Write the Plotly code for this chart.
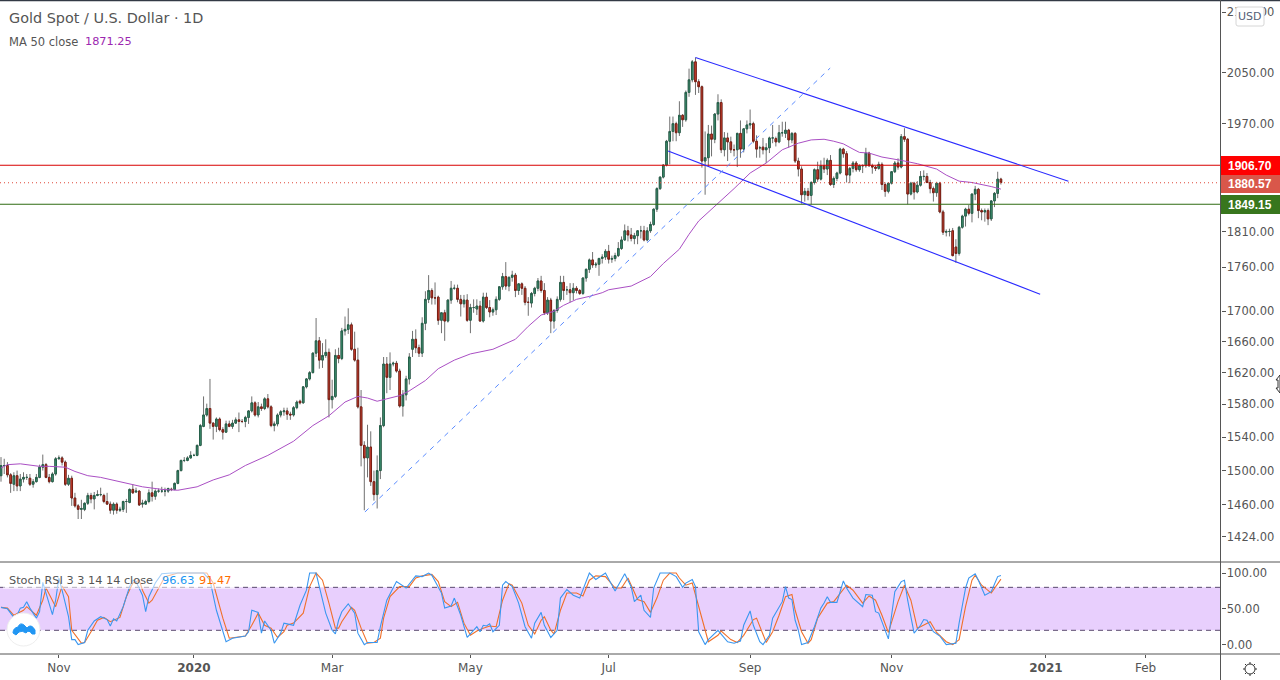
import plotly.graph_objects as go
from plotly.subplots import make_subplots

# ---------- data ----------
opens = [1494,1506,1506,1495,1484,1494,1482,1490,1492,1491,
 1484,1487,1492,1504,1507,1492,1487,1496,1514,1515,
 1510,1484,1491,1468,1459,1455,1455,1462,1471,1467,
 1471,1472,1471,1464,1461,1454,1461,1454,1455,1464,
 1463,1478,1475,1476,1461,1461,1464,1474,1470,1476,
 1476,1476,1476,1478,1478,1485,1500,1512,1512,1515,
 1518,1518,1530,1553,1567,1575,1557,1553,1562,1549,
 1546,1556,1553,1557,1561,1559,1559,1564,1572,1582,
 1567,1577,1575,1587,1577,1554,1556,1567,1571,1572,
 1568,1567,1576,1584,1582,1602,1612,1620,1645,1661,
 1636,1642,1646,1586,1590,1642,1638,1674,1676,1682,
 1650,1636,1577,1530,1515,1528,1487,1472,1500,1554,
 1631,1614,1631,1632,1622,1578,1592,1612,1650,1663,
 1652,1645,1684,1716,1728,1718,1719,1688,1698,1687,
 1715,1731,1731,1716,1710,1715,1688,1705,1703,1707,
 1687,1719,1705,1699,1702,1716,1733,1747,1734,1746,
 1749,1728,1737,1731,1712,1711,1724,1731,1741,1728,
 1698,1715,1687,1701,1716,1739,1729,1729,1725,1731,
 1728,1724,1745,1757,1770,1763,1764,1772,1774,1782,
 1771,1772,1776,1786,1798,1811,1805,1800,1804,1811,
 1811,1798,1811,1820,1842,1872,1889,1907,1943,1958,
 1970,1956,1983,1976,2019,2039,2068,2036,2028,1913,
 1918,1954,1946,1985,2003,1930,1948,1942,1930,1930,
 1955,1931,1962,1968,1970,1943,1933,1934,1930,1933,
 1948,1947,1942,1956,1955,1960,1945,1955,1913,1901,
 1863,1868,1862,1881,1900,1886,1906,1901,1914,1878,
 1887,1895,1931,1924,1892,1902,1910,1900,1906,1906,
 1925,1906,1904,1902,1908,1878,1868,1880,1897,1910,
 1904,1950,1946,1864,1880,1867,1877,1890,1890,1881,
 1872,1866,1880,1838,1809,1810,1811,1788,1779,1816,
 1832,1842,1836,1864,1871,1840,1838,1840,1828,1854,
 1865,1886]
highs = [1516,1514,1510,1497,1498,1500,1496,1498,1496,1496,
 1490,1496,1507,1519,1509,1496,1498,1516,1518,1517,
 1512,1495,1494,1474,1461,1466,1463,1474,1474,1475,
 1477,1480,1473,1474,1464,1463,1463,1458,1465,1467,
 1479,1484,1480,1477,1466,1466,1478,1487,1478,1479,
 1481,1480,1480,1480,1486,1501,1513,1516,1517,1523,
 1520,1531,1556,1590,1581,1612,1558,1564,1564,1552,
 1560,1560,1561,1564,1570,1562,1566,1573,1590,1584,
 1583,1581,1589,1593,1579,1559,1569,1573,1576,1576,
 1571,1578,1585,1586,1603,1613,1622,1646,1691,1666,
 1658,1663,1651,1611,1650,1652,1678,1693,1704,1685,
 1673,1652,1598,1535,1555,1547,1500,1518,1564,1640,
 1640,1646,1634,1635,1625,1598,1616,1645,1674,1676,
 1656,1692,1727,1749,1731,1739,1721,1698,1702,1716,
 1741,1736,1736,1722,1722,1723,1710,1716,1716,1714,
 1725,1725,1715,1705,1720,1734,1752,1767,1747,1755,
 1752,1738,1739,1734,1719,1726,1733,1745,1748,1738,
 1719,1718,1703,1720,1748,1748,1734,1738,1738,1734,
 1730,1746,1758,1772,1781,1767,1773,1778,1785,1791,
 1776,1780,1795,1803,1820,1818,1815,1808,1812,1818,
 1818,1816,1824,1843,1874,1890,1908,1945,1981,1981,
 1973,2005,1985,2022,2057,2071,2075,2040,2030,1958,
 1968,1967,1986,2016,2008,1957,1956,1950,1938,1956,
 1975,1963,1975,1992,1973,1952,1936,1948,1940,1950,
 1968,1950,1968,1973,1973,1962,1957,1957,1918,1905,
 1873,1873,1883,1902,1912,1914,1918,1917,1922,1890,
 1897,1933,1933,1928,1904,1913,1913,1908,1908,1933,
 1927,1909,1906,1912,1911,1881,1881,1898,1913,1917,
 1954,1963,1948,1882,1882,1883,1898,1899,1895,1885,
 1875,1882,1882,1841,1813,1814,1815,1799,1818,1834,
 1844,1848,1865,1876,1873,1843,1843,1843,1855,1867,
 1897,1888]
lows = [1487,1496,1492,1474,1476,1476,1476,1486,1489,1482,
 1480,1486,1491,1500,1491,1485,1486,1494,1513,1506,
 1482,1482,1459,1457,1444,1444,1453,1460,1462,1455,
 1470,1470,1462,1460,1450,1449,1450,1452,1452,1451,
 1462,1473,1474,1459,1457,1460,1462,1464,1466,1474,
 1474,1470,1474,1476,1477,1484,1499,1510,1511,1514,
 1517,1517,1529,1552,1565,1550,1537,1546,1547,1537,
 1545,1552,1550,1556,1546,1557,1552,1556,1570,1565,
 1564,1572,1573,1575,1552,1547,1553,1564,1566,1561,
 1561,1565,1574,1580,1581,1600,1610,1619,1640,1625,
 1626,1639,1564,1575,1588,1632,1636,1668,1670,1648,
 1634,1575,1505,1454,1492,1482,1465,1456,1490,1552,
 1594,1598,1628,1620,1576,1565,1585,1605,1640,1645,
 1640,1640,1675,1711,1709,1709,1682,1671,1661,1685,
 1710,1729,1712,1693,1705,1686,1671,1698,1695,1686,
 1685,1703,1692,1694,1695,1714,1729,1729,1727,1740,
 1719,1722,1722,1708,1694,1705,1720,1727,1725,1695,
 1695,1671,1677,1698,1713,1715,1722,1712,1715,1724,
 1722,1722,1740,1752,1759,1759,1748,1765,1770,1765,
 1766,1768,1774,1784,1797,1796,1796,1792,1792,1800,
 1796,1796,1808,1818,1838,1870,1887,1905,1908,1943,
 1943,1951,1965,1973,2012,2035,2015,2018,1903,1863,
 1905,1920,1940,1975,1925,1920,1913,1925,1920,1904,
 1918,1926,1955,1962,1940,1918,1918,1923,1910,1925,
 1940,1935,1940,1950,1948,1933,1940,1910,1890,1850,
 1853,1855,1849,1878,1882,1884,1895,1892,1876,1873,
 1883,1893,1918,1881,1880,1896,1897,1897,1895,1903,
 1904,1894,1898,1900,1870,1860,1865,1878,1895,1900,
 1902,1942,1849,1862,1856,1865,1875,1884,1880,1865,
 1853,1860,1836,1805,1803,1803,1775,1766,1776,1814,
 1817,1833,1823,1855,1829,1826,1824,1819,1825,1845,
 1858,1878]
closes = [1506,1506,1495,1485,1494,1482,1490,1492,1492,1484,
 1487,1492,1504,1507,1492,1487,1496,1514,1515,1510,
 1484,1491,1468,1459,1455,1456,1462,1471,1467,1471,
 1472,1472,1464,1461,1454,1461,1454,1455,1464,1464,
 1478,1474,1476,1460,1462,1464,1474,1470,1476,1476,
 1476,1476,1479,1478,1485,1500,1512,1512,1515,1518,
 1518,1530,1554,1567,1575,1557,1553,1562,1549,1546,
 1556,1553,1557,1561,1559,1559,1564,1572,1582,1567,
 1577,1575,1587,1577,1554,1556,1567,1571,1572,1568,
 1567,1576,1583,1582,1602,1612,1620,1645,1661,1636,
 1642,1646,1586,1590,1642,1638,1674,1676,1682,1650,
 1636,1577,1530,1515,1528,1487,1472,1500,1554,1631,
 1614,1631,1632,1622,1578,1592,1612,1640,1663,1652,
 1645,1684,1716,1728,1718,1718,1688,1698,1687,1715,
 1731,1731,1716,1710,1715,1688,1705,1705,1707,1687,
 1719,1705,1699,1702,1716,1733,1747,1734,1746,1749,
 1728,1737,1731,1712,1712,1724,1731,1741,1728,1698,
 1715,1687,1701,1716,1739,1728,1729,1725,1731,1728,
 1724,1745,1757,1770,1763,1764,1772,1774,1782,1771,
 1772,1776,1786,1798,1811,1805,1800,1804,1811,1811,
 1798,1811,1820,1842,1872,1889,1907,1943,1958,1970,
 1956,1983,1976,2019,2039,2068,2036,2028,1913,1918,
 1954,1946,1985,2003,1930,1948,1942,1930,1930,1955,
 1931,1962,1968,1970,1943,1931,1933,1930,1933,1948,
 1948,1942,1956,1956,1960,1945,1955,1913,1901,1863,
 1868,1862,1881,1900,1886,1906,1901,1914,1878,1887,
 1895,1931,1924,1892,1902,1910,1900,1906,1906,1925,
 1906,1904,1902,1908,1878,1868,1880,1897,1910,1904,
 1950,1946,1864,1880,1867,1877,1890,1890,1881,1872,
 1866,1880,1838,1809,1810,1810,1776,1779,1816,1832,
 1842,1836,1864,1871,1840,1838,1840,1828,1854,1865,
 1886,1881]

ma_bar = [0,2,6,12,15,20,23,27,31,36,40,44,50,55,61,66,71,76,83,91,97,102,107,111,114,117,120,124,127,132,136,141,146,153,160,164,168,172,175,179,183,187,189,196,202,206,211,214,217,223,228,233,238,243,248,252,256,259,262,265,267,270,274,280,285,291,294,298,302,308,311]
ma_value = [1503,1507,1508,1505,1505,1504,1499,1494,1492,1488,1484,1481,1478,1477,1481,1489,1495,1506,1518,1535,1554,1566,1583,1590,1588,1584,1587,1591,1597,1610,1625,1636,1644,1650,1663,1680,1695,1700,1708,1716,1720,1725,1729,1734,1747,1765,1785,1806,1825,1850,1872,1895,1910,1930,1940,1945,1946,1943,1939,1931,1926,1925,1919,1914,1909,1901,1892,1883,1881,1875,1871.25]

k_bar = [0,2,4,5,6,7,8,9,11,12,13,14,16,17,18,19,21,22,23,24,26,27,29,31,33,34,35,36,38,40,41,42,44,45,46,48,50,53,56,59,63,65,67,70,72,76,77,78,80,81,82,84,85,87,88,89,91,93,95,96,98,99,101,103,104,105,
 106,108,110,111,113,114,117,118,120,123,126,129,131,133,134,137,138,140,141,143,145,146,148,149,150,151,152,153,155,156,157,159,161,163,165,166,168,169,171,173,174,176,178,180,183,185,188,191,194,196,197,199,200,202,203,205,208,210,211,
 212,213,215,216,217,219,220,223,226,228,230,231,233,234,236,237,239,240,243,244,245,246,247,248,249,251,253,255,256,257,258,260,262,263,265,268,269,271,272,273,275,276,278,280,281,282,284,286,287,288,290,292,294,297,298,300,301,303,304,306,308,310,311]
k_value = [52,50,38,41,51,52,60,51,37,46,87,72,42,62,93,76,39,7,7,0,3,20,33,39,35,26,36,33,53,81,90,88,69,46,67,86,99,100,100,100,100,90,48,4,9,12,18,48,45,16,33,20,2,16,30,29,27,55,76,100,100,81,44,20,15,34,
 46,57,44,16,0,3,3,25,62,88,79,96,95,100,97,72,51,54,65,41,10,15,25,18,27,26,29,18,27,83,88,81,58,25,9,30,45,27,10,20,65,77,69,65,100,91,100,75,99,81,60,69,48,38,79,100,100,95,87,
 80,86,91,81,18,0,7,20,4,2,5,27,47,27,4,0,13,37,60,81,65,63,34,20,0,3,25,51,58,67,59,59,89,79,65,53,70,69,46,44,18,8,74,88,90,62,16,27,35,34,18,12,0,2,30,79,93,99,90,69,74,95,96.63]

d_bar = [0,2,4,7,8,11,13,14,17,18,19,21,22,25,26,28,30,32,34,37,39,41,43,44,46,47,49,51,55,59,64,66,69,71,73,76,78,80,82,84,86,88,89,91,94,96,98,100,102,104,105,
 106,109,110,112,114,116,118,119,121,124,127,129,131,134,136,138,140,142,144,146,148,150,152,154,156,158,159,162,164,166,168,169,171,172,174,176,179,181,183,185,188,191,193,195,197,198,200,202,204,206,208,210,211,
 213,215,216,219,220,223,224,227,229,231,234,235,237,238,240,242,244,246,247,249,251,252,254,257,259,261,263,265,268,270,272,274,276,279,281,283,285,286,289,291,294,296,298,300,302,303,305,308,309,311]
d_value = [52,51,41,48,53,41,62,79,53,69,82,67,20,2,3,18,34,38,32,38,67,86,90,76,58,62,79,95,100,100,100,86,37,9,10,12,27,44,27,23,10,18,27,30,44,81,100,90,58,23,23,
 32,52,48,23,2,3,9,37,67,81,81,93,96,98,88,60,53,59,30,13,19,23,26,25,62,85,83,58,27,15,34,39,20,15,48,72,72,68,90,96,95,79,79,93,72,63,60,45,65,90,100,100,93,
 83,86,69,18,4,13,19,7,3,13,35,37,13,3,18,41,67,70,48,18,2,7,37,58,60,72,83,76,58,68,62,41,17,60,83,62,23,25,32,17,4,0,7,53,90,97,83,72,79,91.47]

tick_bars = [18,60,103,146,189,233,277,325,356]
tick_labels = ["Nov","<b>2020</b>","Mar","May","Jul","Sep","Nov","<b>2021</b>","Feb"]
price_ticks = [2150,2050,1970,1810,1760,1700,1660,1620,1580,1540,1500,1460,1424]
stoch_ticks = [100,50,0]

resistance_level = 1906.70
last_price = 1880.57
support_level = 1849.15
channel_top_bars, channel_top_prices = [216,332],[2075,1883]
channel_low_bars, channel_low_prices = [207.5,323.2],[1928,1723]
trend_bars, trend_prices = [113.2,257.9],[1452,2058]
band_low, band_high = 20, 80

# ---------- helpers: pixel -> paper ----------
W, H = 1280, 680
def px(x): return x / W
def py(y): return 1 - y / H

FONT = "DejaVu Sans"
TXT = "#555555"
AXIS = "#555555"
x_range = [-0.31, 379.3]
bars = list(range(len(closes)))

fig = make_subplots(rows=2, cols=1, shared_xaxes=True, vertical_spacing=0)

# wicks
fig.add_trace(go.Candlestick(x=bars, open=opens, high=highs, low=lows, close=closes,
    increasing=dict(line=dict(color="#707070", width=1), fillcolor="#707070"),
    decreasing=dict(line=dict(color="#707070", width=1), fillcolor="#707070"),
    whiskerwidth=0, showlegend=False, hoverinfo="skip"), row=1, col=1)
# bodies
body_hi = [max(o, c) for o, c in zip(opens, closes)]
body_lo = [min(o, c) for o, c in zip(opens, closes)]
fig.add_trace(go.Candlestick(x=bars, open=opens, high=body_hi, low=body_lo, close=closes,
    increasing=dict(line=dict(color="#25604a", width=1), fillcolor="#459a78"),
    decreasing=dict(line=dict(color="#7a1f14", width=1), fillcolor="#e04634"),
    whiskerwidth=0, showlegend=False, hoverinfo="skip"), row=1, col=1)

def line(xs, ys, color, width=1, dash="solid", row=1):
    fig.add_trace(go.Scatter(x=xs, y=ys, mode="lines", showlegend=False, hoverinfo="skip",
                             line=dict(color=color, width=width, dash=dash)), row=row, col=1)

line(ma_bar, ma_value, "#aa4fc4", 1)
line(x_range, [resistance_level]*2, "#d80000", 1.2)
line(x_range, [last_price]*2, "#e0483a", 1.1, "1px,3px")
line(x_range, [support_level]*2, "#2f6b12", 1.2)
line(channel_top_bars, channel_top_prices, "#2a2aff", 1.1)
line(channel_low_bars, channel_low_prices, "#2a2aff", 1.1)
line(trend_bars, trend_prices, "#5b8cff", 1, "5px,5px")

line(x_range, [band_high]*2, "#5a4a6e", 1, "5px,4px", row=2)
line(x_range, [band_low]*2, "#5a4a6e", 1, "5px,4px", row=2)
line(d_bar, d_value, "#f0702a", 1.1, row=2)
line(k_bar, k_value, "#3a97f0", 1.1, row=2)
fig.add_hrect(y0=band_low, y1=band_high, fillcolor="#e8cffd", opacity=1, line_width=0, layer="below", row=2, col=1)

tickfont = dict(family=FONT, size=11.5, color=TXT)
fig.update_layout(
    width=W, height=H, margin=dict(l=0, r=0, t=0, b=0), autosize=False,
    paper_bgcolor="white", plot_bgcolor="white", showlegend=False,
    hovermode=False, dragmode=False,
    xaxis=dict(domain=[0, 1220.5/W], range=x_range, rangeslider=dict(visible=False),
               showgrid=False, zeroline=False, showline=False, showticklabels=False, ticks=""),
    xaxis2=dict(domain=[0, 1220.5/W], range=x_range, rangeslider=dict(visible=False),
                showgrid=False, zeroline=False, showline=False, tickmode="array",
                tickvals=tick_bars, ticktext=tick_labels, ticks="outside", ticklen=3,
                tickcolor=AXIS, tickfont=dict(family=FONT, size=12, color=TXT)),
    yaxis=dict(domain=[py(562), 1], type="log", range=[3.14490, 3.33666], side="right",
               autorange=False, showgrid=False, zeroline=False, showline=False, tickmode="array",
               tickvals=price_ticks, ticktext=[f"{v:.2f}" for v in price_ticks],
               ticks="outside", ticklen=4, tickcolor=AXIS, tickfont=tickfont, ticklabelstandoff=-1),
    yaxis2=dict(domain=[py(654), py(563)], range=[-13.1, 114], side="right",
                showgrid=False, zeroline=False, showline=False, tickmode="array",
                tickvals=stoch_ticks, ticktext=[f"{v:.2f}" for v in stoch_ticks],
                ticks="outside", ticklen=4, tickcolor=AXIS, tickfont=tickfont, ticklabelstandoff=-1),
)

def rule(x0, y0, x1, y1, color=AXIS, width=1):
    fig.add_shape(type="line", xref="paper", yref="paper", x0=px(x0), y0=py(y0), x1=px(x1), y1=py(y1),
                  line=dict(color=color, width=width), layer="above")
def box(x0, y0, x1, y1, fill, line_color=None, opacity=1):
    fig.add_shape(type="rect", xref="paper", yref="paper", x0=px(x0), y0=py(y0), x1=px(x1), y1=py(y1),
                  fillcolor=fill, opacity=opacity, layer="above",
                  line=dict(color=line_color or fill, width=1 if line_color else 0))
def label(x, y, text, size=12, color=TXT, anchor="left", family=FONT):
    fig.add_annotation(xref="paper", yref="paper", x=px(x), y=py(y), text=text, showarrow=False,
                       xanchor=anchor, yanchor="middle", align=anchor,
                       font=dict(family=family, size=size, color=color))

rule(0, 0.5, 1280, 0.5, "#333a45", 1.5)
rule(0, 562, 1280, 562)
rule(0, 654, 1280, 654)
rule(1220.5, 0, 1220.5, 680)

box(1221, 156, 1280, 175, "#ff0000")
box(1221, 175, 1280, 193, "#d9574a")
box(1221, 195, 1280, 214, "#38761d")
LB = "Liberation Sans"
label(1250, 165.5, "<b>1906.70</b>", 12, "white", "center", LB)
label(1250, 184, "<b>1880.57</b>", 12, "white", "center", LB)
label(1250, 204.5, "<b>1849.15</b>", 12, "white", "center", LB)

# USD button
fig.add_shape(type="path", xref="paper", yref="paper", layer="above", fillcolor="white",
              line=dict(color="#d6d6d6", width=1),
              path=(f"M{px(1238)},{py(7)} L{px(1262)},{py(7)} Q{px(1264)},{py(7)} {px(1264)},{py(9)} "
                    f"L{px(1264)},{py(24)} Q{px(1264)},{py(26)} {px(1262)},{py(26)} L{px(1238)},{py(26)} "
                    f"Q{px(1236)},{py(26)} {px(1236)},{py(24)} L{px(1236)},{py(9)} Q{px(1236)},{py(7)} {px(1238)},{py(7)} Z"))
label(1250, 16.5, "USD", 11, "#555f78", "center")

# header texts (annotations carry about 2px of padding)
label(7, 18, "Gold Spot / U.S. Dollar · 1D", 14.4, TXT)
label(7, 41.5, "MA 50 close", 11.5, TXT)
label(83, 41.5, "1871.25", 11.3, "#9c27b0")
box(3, 571, 235, 589, "white", opacity=0.55)
label(7, 580, "Stoch RSI 3 3 14 14 close", 11.3, TXT)
label(160, 580, "96.63", 11.3, "#2196f3")
label(197, 580, "91.47", 11.3, "#ff6d00")

# logo
fig.add_shape(type="circle", xref="paper", yref="paper", layer="above", fillcolor="white",
              line=dict(color="#eeeeee", width=1),
              x0=px(7), x1=px(40), y0=py(646), y1=py(613))
fig.add_shape(type="path", xref="paper", yref="paper", layer="above", fillcolor="#2196f3",
              line=dict(color="#2196f3", width=1),
              path=(f"M{px(13)},{py(633)} Q{px(13)},{py(628)} {px(18)},{py(627)} Q{px(20)},{py(622)} {px(24)},{py(625)} "
                    f"L{px(27)},{py(628)} Q{px(31)},{py(623)} {px(35)},{py(630)} L{px(35)},{py(634)} "
                    f"L{px(32)},{py(634)} Q{px(29)},{py(629)} {px(26)},{py(633)} Q{px(22)},{py(630)} {px(19)},{py(632)} "
                    f"L{px(16)},{py(635)} Z"))

# settings gear
fig.add_shape(type="circle", xref="paper", yref="paper", layer="above", fillcolor="white",
              line=dict(color="#333333", width=1), x0=px(1245), x1=px(1255), y0=py(674), y1=py(664))
for a, b, c, d in [(1250,662,1250,664),(1250,674,1250,676),(1243,669,1245,669),(1255,669,1257,669),
                   (1245,664,1246.5,665.5),(1253.5,672.5,1255,674),(1245,674,1246.5,672.5),(1253.5,665.5,1255,664)]:
    rule(a, b, c, d, "#333333", 1)

# resize cursor at the right edge
fig.add_shape(type="path", xref="paper", yref="paper", layer="above", fillcolor="white",
              line=dict(color="#333333", width=1),
              path=(f"M{px(1280)},{py(375)} L{px(1276)},{py(380)} L{px(1278)},{py(380)} L{px(1278)},{py(388)} "
                    f"L{px(1276)},{py(388)} L{px(1280)},{py(393)} Z"))

fig.write_html("out.html", config=dict(displayModeBar=False),
               post_script="document.body.style.margin='0';document.body.style.overflow='hidden';")
